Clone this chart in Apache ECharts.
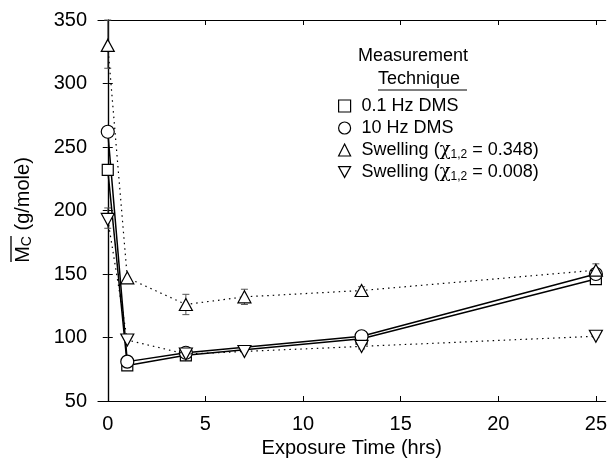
<!DOCTYPE html>
<html><head><meta charset="utf-8">
<script src="https://cdn.jsdelivr.net/npm/echarts@6/dist/echarts.min.js"></script>
<style>html,body{margin:0;padding:0;background:#fff}#c{width:610px;height:464px}</style>
</head><body><div id="c"></div>
<script>
// ---- data ----
const xTicks = [0, 5, 10, 15, 20, 25];
const yTicks = [50, 100, 150, 200, 250, 300, 350];
const dmsTimes = [0, 1, 4, 13, 25];
const dms01 = [232, 78, 86, 99, 146];
const dms10 = [262, 81, 88, 101, 150];
const swellTimes = [0, 1, 4, 7, 13, 25];
const swell348 = [330, 147, 126, 132, 137, 153];
const swell348Lo = [312, 147, 118, 126, 134, 148];
const swell348Hi = [350, 147, 134, 138, 140, 158];
const swell008 = [193, 98, 87, 89, 93, 101];
const swell008Lo = [186, 98, 87, 89, 91, 100];
const swell008Hi = [202, 98, 87, 89, 95, 102];
const names = ['0.1 Hz DMS', '10 Hz DMS', 'Swelling (χ1,2 = 0.348)', 'Swelling (χ1,2 = 0.008)'];

const pts = (xs, ys) => xs.map((x, i) => [x, ys[i]]);
const errs = (xs, lo, hi) => xs.map((x, i) => [x, lo[i], hi[i]]);

const FONT = 'Liberation Sans, Arial, sans-serif';
const mk = {color: '#fff', borderColor: '#000', borderWidth: 1.2};

function errRender(params, api) {
  const x = api.value(0), lo = api.value(1), hi = api.value(2);
  if (hi - lo < 0.5) return null;
  const a = api.coord([x, lo]), b = api.coord([x, hi]);
  const w = 3.5;
  const st = {stroke: '#555', lineWidth: 1};
  return {type: 'group', children: [
    {type: 'line', shape: {x1: a[0], y1: a[1], x2: b[0], y2: b[1]}, style: st},
    {type: 'line', shape: {x1: a[0] - w, y1: a[1], x2: a[0] + w, y2: a[1]}, style: st},
    {type: 'line', shape: {x1: b[0] - w, y1: b[1], x2: b[0] + w, y2: b[1]}, style: st}
  ]};
}

const chart = echarts.init(document.getElementById('c'), null, {renderer: 'canvas'});
const axisCommon = {
  axisLine: {show: true, lineStyle: {color: '#000', width: 1.2}},
  splitLine: {show: false}
};
chart.setOption({
  animation: false,
  backgroundColor: '#fff',
  grid: {left: 98, right: 3, top: 20, bottom: 63},
  xAxis: [
    Object.assign({type: 'value', min: -0.5, max: 25.5, position: 'bottom',
      axisTick: {inside: true, length: 5, customValues: xTicks, lineStyle: {color: '#000'}},
      axisLabel: {customValues: xTicks, margin: 13, fontSize: 20, color: '#000', fontFamily: FONT},
      name: 'Exposure Time (hrs)', nameLocation: 'middle', nameGap: 37,
      nameTextStyle: {fontSize: 20, color: '#000', fontFamily: FONT}}, axisCommon),
    Object.assign({type: 'value', min: -0.5, max: 25.5, position: 'top',
      axisTick: {inside: true, length: 5, customValues: xTicks, lineStyle: {color: '#000'}},
      axisLabel: {show: false}}, axisCommon)
  ],
  yAxis: [
    Object.assign({type: 'value', min: 50, max: 350, interval: 50, position: 'left',
      axisTick: {inside: true, length: 5, lineStyle: {color: '#000'}},
      axisLabel: {margin: 11, fontSize: 20, color: '#000', fontFamily: FONT}}, axisCommon),
    Object.assign({type: 'value', min: 50, max: 350, interval: 50, position: 'right',
      axisTick: {inside: true, length: 5, lineStyle: {color: '#000'}},
      axisLabel: {show: false}}, axisCommon)
  ],
  legend: {
    orient: 'vertical', left: 333, top: 90, itemWidth: 12, itemHeight: 12, itemGap: 0,
    textStyle: {fontSize: 18, color: '#000', fontFamily: FONT, padding: [0, 0, 0, 6], lineHeight: 22,
      rich: {
        t: {fontSize: 18, fontFamily: FONT, color: '#000', lineHeight: 22},
        g: {fontSize: 18, fontFamily: 'DejaVu Serif, serif', color: '#000', lineHeight: 22},
        s: {fontSize: 12, fontFamily: FONT, color: '#000', verticalAlign: 'bottom', lineHeight: 12, padding: [10, 0, 0, 0]}
      }},
    formatter: function (n) {
      const m = n.match(/^Swelling \(χ1,2 = (.*)\)$/);
      if (m) return '{t|Swelling (}{g|χ}{s|1,2}{t| = ' + m[1] + ')}';
      return '{t|' + n + '}';
    },
    data: [
      {name: names[0], icon: 'rect', itemStyle: mk},
      {name: names[1], icon: 'circle', itemStyle: mk},
      {name: names[2], icon: 'triangle', itemStyle: mk},
      {name: names[3], icon: 'path://M0,0L10,0L5,9Z', itemStyle: mk}
    ],
    selectedMode: false
  },
  graphic: [
    {type: 'text', left: 358, top: 47, style: {text: 'Measurement', fontSize: 18, fontFamily: FONT, fill: '#000'}},
    {type: 'text', left: 378, top: 70, style: {text: 'Technique', fontSize: 18, fontFamily: FONT, fill: '#000'}},
    {type: 'line', shape: {x1: 378, y1: 90, x2: 467, y2: 90}, style: {stroke: '#000', lineWidth: 1}},
    {type: 'group', x: 23, y: 210, rotation: Math.PI / 2, children: [
      {type: 'text', style: {text: '{m|M}{c|C}{m| (g/mole)}', align: 'center', verticalAlign: 'middle',
        rich: {m: {fontSize: 20, fontFamily: FONT, fill: '#000'},
               c: {fontSize: 14, fontFamily: FONT, fill: '#000', padding: [8, 0, 0, 0]}}}},
      {type: 'line', shape: {x1: -52, y1: -12, x2: -26, y2: -12}, style: {stroke: '#000', lineWidth: 1.3}}
    ]}
  ],
  series: [
    {name: names[0], type: 'line', data: pts(dmsTimes, dms01), symbol: 'rect', symbolSize: 11,
      itemStyle: mk, lineStyle: {color: '#000', width: 1.5}, z: 3},
    {name: names[1], type: 'line', data: pts(dmsTimes, dms10), symbol: 'circle', symbolSize: 13,
      itemStyle: mk, lineStyle: {color: '#000', width: 1.5}, z: 3},
    {name: names[2], type: 'line', data: pts(swellTimes, swell348), symbol: 'triangle', symbolSize: [13, 12],
      itemStyle: mk, lineStyle: {color: '#000', width: 1.2, type: [1.5, 4]}, z: 4},
    {name: names[3], type: 'line', data: pts(swellTimes, swell008), symbol: 'triangle', symbolSize: [13, 12],
      symbolRotate: 180, itemStyle: mk, lineStyle: {color: '#000', width: 1.2, type: [1.5, 4]}, z: 4},
    {name: 'err348', type: 'custom', data: errs(swellTimes, swell348Lo, swell348Hi), renderItem: errRender,
      encode: {x: 0, y: [1, 2]}, z: 2},
    {name: 'err008', type: 'custom', data: errs(swellTimes, swell008Lo, swell008Hi), renderItem: errRender,
      encode: {x: 0, y: [1, 2]}, z: 2}
  ]
});
</script></body></html>
